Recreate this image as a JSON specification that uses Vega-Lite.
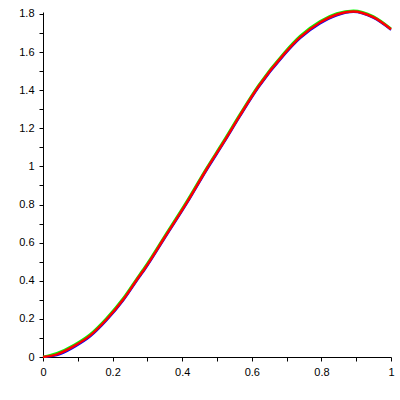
{
  "$schema": "https://vega.github.io/schema/vega-lite/v6.json",
  "width": 348,
  "height": 345,
  "autosize": "none",
  "padding": {"left": 43, "top": 12, "right": 9, "bottom": 43},
  "background": "white",
  "config": {"view": {"stroke": null}},
  "datasets": {
    "curve": [
      {"x": 0.0, "y": 0.0},
      {"x": 0.04, "y": 0.014},
      {"x": 0.09, "y": 0.058},
      {"x": 0.135, "y": 0.112},
      {"x": 0.183, "y": 0.198},
      {"x": 0.231, "y": 0.303},
      {"x": 0.277, "y": 0.425},
      {"x": 0.293, "y": 0.466},
      {"x": 0.351, "y": 0.632},
      {"x": 0.413, "y": 0.81},
      {"x": 0.47, "y": 0.985},
      {"x": 0.52, "y": 1.13},
      {"x": 0.566, "y": 1.268},
      {"x": 0.619, "y": 1.419},
      {"x": 0.695, "y": 1.594},
      {"x": 0.739, "y": 1.678},
      {"x": 0.796, "y": 1.755},
      {"x": 0.844, "y": 1.797},
      {"x": 0.892, "y": 1.813},
      {"x": 0.949, "y": 1.783},
      {"x": 1.0, "y": 1.72}
    ],
    "green": [
      {"x": 0.0, "y": 0.0},
      {"x": 0.04, "y": 0.02},
      {"x": 0.09, "y": 0.064},
      {"x": 0.135, "y": 0.118},
      {"x": 0.183, "y": 0.204},
      {"x": 0.231, "y": 0.309},
      {"x": 0.277, "y": 0.431},
      {"x": 0.293, "y": 0.472},
      {"x": 0.351, "y": 0.638},
      {"x": 0.413, "y": 0.816},
      {"x": 0.47, "y": 0.991},
      {"x": 0.52, "y": 1.136},
      {"x": 0.566, "y": 1.274},
      {"x": 0.619, "y": 1.425},
      {"x": 0.695, "y": 1.6},
      {"x": 0.739, "y": 1.684},
      {"x": 0.796, "y": 1.761},
      {"x": 0.844, "y": 1.802},
      {"x": 0.892, "y": 1.817},
      {"x": 0.949, "y": 1.787},
      {"x": 1.0, "y": 1.722}
    ],
    "blue": [
      {"x": 0.0, "y": 0.0},
      {"x": 0.04, "y": 0.009},
      {"x": 0.09, "y": 0.052},
      {"x": 0.135, "y": 0.106},
      {"x": 0.183, "y": 0.192},
      {"x": 0.231, "y": 0.297},
      {"x": 0.277, "y": 0.419},
      {"x": 0.293, "y": 0.46},
      {"x": 0.351, "y": 0.626},
      {"x": 0.413, "y": 0.804},
      {"x": 0.47, "y": 0.979},
      {"x": 0.52, "y": 1.124},
      {"x": 0.566, "y": 1.262},
      {"x": 0.619, "y": 1.413},
      {"x": 0.695, "y": 1.588},
      {"x": 0.739, "y": 1.672},
      {"x": 0.796, "y": 1.749},
      {"x": 0.844, "y": 1.792},
      {"x": 0.892, "y": 1.81},
      {"x": 0.949, "y": 1.779},
      {"x": 1.0, "y": 1.716}
    ]
  },
  "encoding": {
    "x": {
      "field": "x", "type": "quantitative",
      "scale": {"domain": [0, 1], "nice": false, "zero": false},
      "axis": {
        "title": null, "grid": false,
        "values": [0, 0.1, 0.2, 0.3, 0.4, 0.5, 0.6, 0.7, 0.8, 0.9, 1.0],
        "format": ".1~f",
        "labelExpr": "round(datum.value*10) % 2 == 0 ? datum.label : ''",
        "domainColor": "black", "tickColor": "black", "tickSize": 4,
        "labelColor": "black", "labelFont": "Liberation Sans", "labelFontSize": 11,
        "labelPadding": 5, "labelFlush": false, "labelOverlap": false
      }
    },
    "y": {
      "field": "y", "type": "quantitative",
      "scale": {"domain": [0, 1.81], "nice": false, "zero": false},
      "axis": {
        "title": null, "grid": false,
        "values": [0, 0.1, 0.2, 0.3, 0.4, 0.5, 0.6, 0.7, 0.8, 0.9, 1.0, 1.1, 1.2, 1.3, 1.4, 1.5, 1.6, 1.7, 1.8],
        "format": ".1~f",
        "labelExpr": "round(datum.value*10) % 2 == 0 ? datum.label : ''",
        "domainColor": "black", "tickColor": "black", "tickSize": 4,
        "labelColor": "black", "labelFont": "Liberation Sans", "labelFontSize": 11,
        "labelPadding": 5, "labelFlush": false, "labelOverlap": false
      }
    }
  },
  "layer": [
    {"data": {"name": "blue"}, "mark": {"type": "line", "color": "#0000FF", "strokeWidth": 2, "interpolate": "monotone", "clip": false}},
    {"data": {"name": "green"}, "mark": {"type": "line", "color": "#00FF00", "strokeWidth": 2.5, "interpolate": "monotone", "clip": false}},
    {"data": {"name": "curve"}, "mark": {"type": "line", "color": "#FF0000", "strokeWidth": 2.5, "interpolate": "monotone", "clip": false}}
  ]
}
